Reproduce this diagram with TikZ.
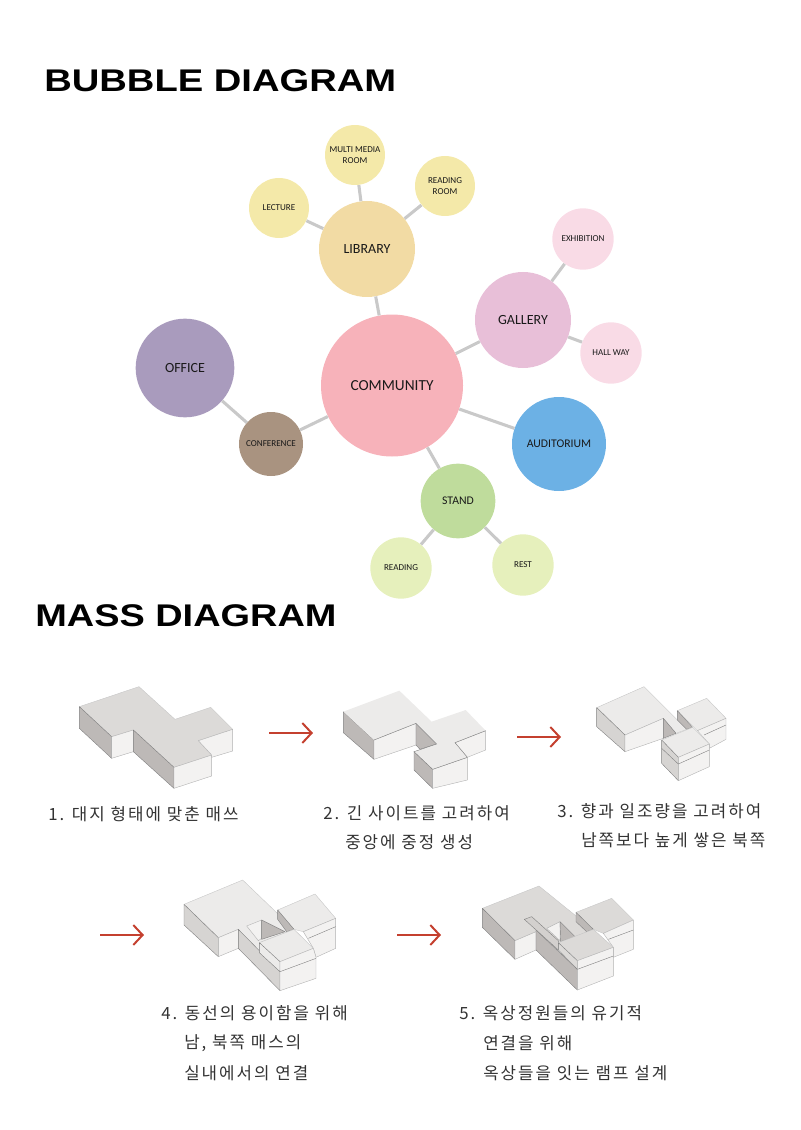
\documentclass[tikz,border=0pt]{standalone}
\usepackage{fontspec}
\setmainfont{Carlito}
\newfontfamily\titlefont{Liberation Sans}
\newfontfamily\krfont{Noto Sans CJK KR}[LetterSpace=12]
\usetikzlibrary{arrows.meta}
\definecolor{linkgray}{HTML}{C9C9C9}
\definecolor{arrowred}{HTML}{C4402F}
\definecolor{topa}{HTML}{DCDAD8}
\definecolor{topb}{HTML}{ECEBEA}
\definecolor{leftface}{HTML}{BDB9B7}
\definecolor{rightface}{HTML}{F3F2F1}
\definecolor{wallface}{HTML}{D6D4D2}
\definecolor{pinkbig}{HTML}{F7B2BA}
\definecolor{sandbig}{HTML}{F2DBA4}
\definecolor{sandsmall}{HTML}{F4E9A9}
\definecolor{mauvebig}{HTML}{E8BFD8}
\definecolor{mauvesmall}{HTML}{F9DBE6}
\definecolor{bluebig}{HTML}{6CB1E5}
\definecolor{greenbig}{HTML}{BFDC9C}
\definecolor{greensmall}{HTML}{E6F0BC}
\definecolor{brownmid}{HTML}{A99380}
\definecolor{purplebig}{HTML}{A99BBD}
\tikzset{
  bubble/.style={circle, inner sep=0pt, align=center, text=black!90},
  huge/.style={bubble, font=\fontsize{11.5}{13}\selectfont},
  big/.style={bubble, font=\fontsize{10.5}{12}\selectfont},
  mid/.style={bubble, font=\fontsize{8.8}{10}\selectfont},
  small/.style={bubble, font=\fontsize{6.8}{8}\selectfont},
  link/.style={linkgray, line width=2.3pt},
  headline/.style={anchor=west, inner sep=0pt, font=\titlefont\bfseries\fontsize{23.5}{26}\selectfont},
  note/.style={anchor=west, inner sep=0pt, text=black!80, font=\krfont\fontsize{12.6}{14}\selectfont},
  redarrow/.style={arrowred, line width=1.5pt, -{Straight Barb[length=7pt,width=15pt]}},
  top/.style={draw=black!22, line width=0.3pt, line join=round},
  leftf/.style={draw=black!50, line width=0.3pt, line join=round, fill=leftface},
  rightf/.style={draw=black!30, line width=0.3pt, line join=round, fill=rightface},
  wallf/.style={leftf, fill=wallface},
  crease/.style={black!50, line width=0.3pt},
}
\begin{document}
\begin{tikzpicture}[x=0.75pt, y=-0.75pt]
  \useasboundingbox (0,0) rectangle (800,1130);
  % titles
  \node[headline, xscale=1.218] (bubbletitle) at (44,81) {BUBBLE DIAGRAM};
  \node[headline, xscale=1.21] (masstitle) at (35,616) {MASS DIAGRAM};
  % bubbles
  \node[huge, fill=pinkbig, minimum size=106.5pt] (community) at (392,385.5) {COMMUNITY};
  \node[big, fill=sandbig, minimum size=72pt] (library) at (367,249) {LIBRARY};
  \node[small, fill=sandsmall, minimum size=45pt] (lecture) at (279,208) {LECTURE};
  \node[small, fill=sandsmall, minimum size=45pt] (multimedia) at (355,155) {MULTI MEDIA\\ROOM};
  \node[small, fill=sandsmall, minimum size=45pt] (readingroom) at (445,186) {READING\\ROOM};
  \node[big, fill=mauvebig, minimum size=72pt] (gallery) at (523,320) {GALLERY};
  \node[small, fill=mauvesmall, minimum size=46pt] (exhibition) at (583,239) {EXHIBITION};
  \node[small, fill=mauvesmall, minimum size=46pt] (hallway) at (611,353) {HALL WAY};
  \node[mid, fill=bluebig, minimum size=70.5pt] (auditorium) at (559,444) {AUDITORIUM};
  \node[mid, fill=greenbig, minimum size=56pt] (stand) at (458,501) {STAND};
  \node[small, fill=greensmall, minimum size=46pt] (reading) at (401,568) {READING};
  \node[small, fill=greensmall, minimum size=46pt] (rest) at (523,565) {REST};
  \node[small, fill=brownmid, minimum size=48pt] (conference) at (271,444) {CONFERENCE};
  \node[big, fill=purplebig, minimum size=74pt] (office) at (185,368) {OFFICE};
  % links
  \foreach \a/\b in {community/library, library/lecture, library/multimedia, library/readingroom,
    community/gallery, gallery/exhibition, gallery/hallway, community/auditorium, community/stand,
    stand/reading, stand/rest, community/conference, conference/office}
    \draw[link] (\a) -- (\b);
  % mass 1
  \begin{scope}[shift={(60,670)}, x=0.25pt, y=-0.25pt]
    \draw[top, fill=topa] (58,110) -- (237,50) -- (345,148) -- (452,112) -- (518,178) -- (415,212) -- (455,255) -- (342,292) -- (220,180) -- (155,200) -- cycle;
    \draw[leftf] (58,110) -- (155,200) -- (155,265) -- (58,175) -- cycle;
    \draw[rightf] (155,200) -- (220,180) -- (220,245) -- (155,265) -- cycle;
    \draw[leftf] (220,180) -- (342,292) -- (342,355) -- (220,245) -- cycle;
    \draw[rightf] (342,292) -- (455,255) -- (455,318) -- (342,355) -- cycle;
    \draw[rightf] (415,212) -- (518,178) -- (518,243) -- (455,262) -- (455,255) -- cycle;
  \end{scope}
  % mass 2
  \begin{scope}[shift={(320,670)}, x=0.25pt, y=-0.25pt]
    \draw[leftf] (70,125) -- (162,210) -- (162,268) -- (70,188) -- cycle;
    \draw[rightf] (162,210) -- (288,160) -- (288,225) -- (162,268) -- cycle;
    \draw[leftf] (288,160) -- (350,222) -- (300,238) -- (288,225) -- cycle;
    \draw[leftf] (282,245) -- (338,298) -- (338,355) -- (282,300) -- cycle;
    \draw[rightf] (338,298) -- (442,262) -- (442,330) -- (338,355) -- cycle;
    \draw[rightf] (405,218) -- (497,182) -- (497,240) -- (442,262) -- cycle;
    \fill[topb] (70,125) -- (238,62) -- (335,155) -- (437,120) -- (497,182) -- (405,218) -- (442,262) -- (338,298) -- (282,245) -- (350,222) -- (288,160) -- (162,210) -- cycle;
    \draw[crease] (162,210) -- (288,160) -- (350,222) -- (282,245) -- (338,298) -- (442,262) -- (405,218) -- (497,182);
  \end{scope}
  % mass 3
  \begin{scope}[shift={(550,670)}, x=0.25pt, y=-0.25pt]
    \draw[top, fill=topb] (140,113) -- (282,50) -- (410,178) -- (378,190) -- (340,145) -- (225,195) -- cycle;
    \draw[wallf] (140,113) -- (225,195) -- (225,245) -- (140,170) -- cycle;
    \draw[rightf] (225,195) -- (340,145) -- (340,205) -- (225,245) -- cycle;
    \draw[leftf] (340,145) -- (378,190) -- (340,205) -- cycle;
    \draw[top, fill=topb] (382,122) -- (470,85) -- (528,145) -- (442,182) -- cycle;
    \draw[leftf] (382,122) -- (428,172) -- (410,178) -- (382,150) -- cycle;
    \draw[rightf] (442,182) -- (528,145) -- (528,208) -- (478,235) -- (478,222) -- cycle;
    \draw[crease] (462,195) -- (528,165);
    \draw[top, fill=topb] (335,210) -- (428,172) -- (478,222) -- (385,262) -- cycle;
    \draw[wallf] (335,210) -- (385,262) -- (385,332) -- (335,280) -- cycle;
    \draw[rightf] (385,262) -- (478,222) -- (478,290) -- (385,332) -- cycle;
    \draw[crease] (335,235) -- (385,282) -- (478,240);
  \end{scope}
  % mass 4
  \begin{scope}[shift={(90,870)}, x=0.25pt, y=-0.25pt]
    \draw[top, fill=topb] (282,103) -- (458,30) -- (612,178) -- (508,218) -- (508,248) -- (445,178) -- (385,203) -- cycle;
    \draw[wallf] (282,103) -- (385,203) -- (385,260) -- (282,165) -- cycle;
    \draw[rightf] (385,203) -- (445,178) -- (445,235) -- (385,260) -- cycle;
    \draw[rightf] (470,168) -- (515,150) -- (515,205) -- (505,212) -- cycle;
    \draw[leftf] (515,150) -- (585,185) -- (515,208) -- cycle;
    \draw[wallf] (445,178) -- (570,305) -- (570,362) -- (445,235) -- cycle;
    \draw[top, fill=topb] (563,120) -- (675,72) -- (737,145) -- (640,185) -- (612,178) -- cycle;
    \draw[leftf] (563,120) -- (612,178) -- (590,185) -- (563,148) -- cycle;
    \draw[rightf] (640,185) -- (737,145) -- (737,235) -- (678,262) -- (670,235) -- cycle;
    \draw[crease] (655,205) -- (737,170);
    \draw[top, fill=topb] (508,218) -- (612,178) -- (670,235) -- (570,275) -- cycle;
    \draw[wallf, fill=topb] (508,218) -- (570,275) -- (570,305) -- (508,248) -- cycle;
    \draw[rightf] (570,275) -- (670,235) -- (678,262) -- (678,325) -- (570,362) -- cycle;
    \draw[crease] (570,305) -- (678,265);
  \end{scope}
  % mass 5
  \begin{scope}[shift={(390,870)}, x=0.25pt, y=-0.25pt]
    \draw[top, fill=topa] (277,115) -- (447,48) -- (610,180) -- (505,218) -- (505,240) -- (438,185) -- (375,212) -- cycle;
    \draw[leftf] (277,115) -- (375,212) -- (375,268) -- (277,172) -- cycle;
    \draw[rightf] (375,212) -- (438,185) -- (438,240) -- (375,268) -- cycle;
    \draw[rightf] (470,175) -- (510,155) -- (510,212) -- cycle;
    \draw[leftf] (510,155) -- (555,200) -- (512,215) -- cycle;
    \draw[leftf] (438,180) -- (562,298) -- (562,360) -- (438,240) -- cycle;
    \draw[wallf, fill=topa!70!leftface] (403,148) -- (425,140) -- (505,212) -- (505,240) -- cycle;
    \draw[top, fill=topa] (558,127) -- (665,85) -- (730,150) -- (640,190) -- (610,178) -- cycle;
    \draw[leftf] (558,127) -- (610,178) -- (590,185) -- (558,155) -- cycle;
    \draw[rightf] (640,190) -- (730,150) -- (730,238) -- (670,262) -- (670,232) -- cycle;
    \draw[crease] (655,208) -- (730,180);
    \draw[top, fill=topa] (505,218) -- (610,178) -- (670,232) -- (562,272) -- cycle;
    \draw[wallf, fill=topa] (505,218) -- (562,272) -- (562,298) -- (505,240) -- cycle;
    \draw[rightf] (562,272) -- (670,232) -- (670,318) -- (562,360) -- cycle;
    \draw[crease] (562,298) -- (670,258);
  \end{scope}
  % arrows
  \foreach \n/\x/\y in {a/269/733, b/517/737, c/100/935, d/397/935} {
    \coordinate (\n from) at (\x,\y);
    \coordinate (\n to) at (\x+44,\y);
    \draw[redarrow] (\n from) -- (\n to);
  }
  % notes
  \node[note] (noteone) at (48,814) {1. 대지 형태에 맞춘 매쓰};
  \node[note] (notetwoa) at (323,813) {2. 긴 사이트를 고려하여};
  \node[note] (notetwob) at (345,842) {중앙에 중정 생성};
  \node[note] (notethreea) at (557,811) {3. 향과 일조량을 고려하여};
  \node[note] (notethreeb) at (581,840) {남쪽보다 높게 쌓은 북쪽};
  \node[note] (notefoura) at (161,1013) {4. 동선의 용이함을 위해};
  \node[note] (notefourb) at (184,1043) {남, 북쪽 매스의};
  \node[note] (notefourc) at (184,1073) {실내에서의 연결};
  \node[note] (notefivea) at (459,1013) {5. 옥상정원들의 유기적};
  \node[note] (notefiveb) at (483,1043) {연결을 위해};
  \node[note] (notefivec) at (483,1073) {옥상들을 잇는 램프 설계};
\end{tikzpicture}
\end{document}
